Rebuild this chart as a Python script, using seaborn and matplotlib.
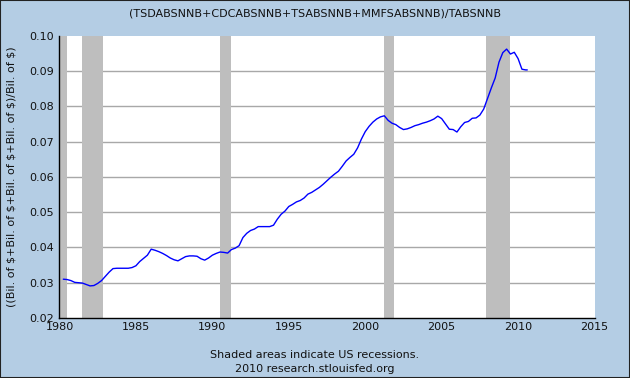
import matplotlib
matplotlib.use("Agg")
import matplotlib.pyplot as plt
import seaborn as sns
import pandas as pd
from matplotlib.patches import Rectangle

years = [1980.25, 1980.5, 1980.75, 1981.0, 1981.25, 1981.5, 1981.75, 1982.0, 1982.25, 1982.5,
         1982.75, 1983.0, 1983.25, 1983.5, 1983.75, 1984.0, 1984.25, 1984.5, 1984.75, 1985.0,
         1985.25, 1985.5, 1985.75, 1986.0, 1986.25, 1986.5, 1986.75, 1987.0, 1987.25, 1987.5,
         1987.75, 1988.0, 1988.25, 1988.5, 1988.75, 1989.0, 1989.25, 1989.5, 1989.75, 1990.0,
         1990.25, 1990.5, 1990.75, 1991.0, 1991.25, 1991.5, 1991.75, 1992.0, 1992.25, 1992.5,
         1992.75, 1993.0, 1993.25, 1993.5, 1993.75, 1994.0, 1994.25, 1994.5, 1994.75, 1995.0,
         1995.25, 1995.5, 1995.75, 1996.0, 1996.25, 1996.5, 1996.75, 1997.0, 1997.25, 1997.5,
         1997.75, 1998.0, 1998.25, 1998.5, 1998.75, 1999.0, 1999.25, 1999.5, 1999.75, 2000.0,
         2000.25, 2000.5, 2000.75, 2001.0, 2001.25, 2001.5, 2001.75, 2002.0, 2002.25, 2002.5,
         2002.75, 2003.0, 2003.25, 2003.5, 2003.75, 2004.0, 2004.25, 2004.5, 2004.75, 2005.0,
         2005.25, 2005.5, 2005.75, 2006.0, 2006.25, 2006.5, 2006.75, 2007.0, 2007.25, 2007.5,
         2007.75, 2008.0, 2008.25, 2008.5, 2008.75, 2009.0, 2009.25, 2009.5, 2009.75, 2010.0,
         2010.25, 2010.5, 2010.6]
ratio = [0.0310, 0.0309, 0.0306, 0.0301, 0.0300, 0.0299, 0.0295, 0.0291, 0.0292, 0.0298,
         0.0306, 0.0318, 0.0330, 0.0340, 0.0341, 0.0341, 0.0341, 0.0341, 0.0343, 0.0348,
         0.0360, 0.0369, 0.0378, 0.0395, 0.0392, 0.0388, 0.0383, 0.0377, 0.0370, 0.0365,
         0.0362, 0.0368, 0.0374, 0.0376, 0.0376, 0.0375, 0.0368, 0.0364, 0.0370, 0.0378,
         0.0383, 0.0387, 0.0386, 0.0384, 0.0394, 0.0398, 0.0405, 0.0428, 0.0440, 0.0448,
         0.0452, 0.0459, 0.0459, 0.0459, 0.0459, 0.0463, 0.0480, 0.0494, 0.0503, 0.0516,
         0.0522, 0.0529, 0.0533, 0.0540, 0.0551, 0.0556, 0.0563, 0.0570, 0.0579, 0.0589,
         0.0599, 0.0608, 0.0616, 0.0630, 0.0645, 0.0655, 0.0664, 0.0682, 0.0707, 0.0728,
         0.0743, 0.0755, 0.0764, 0.0770, 0.0773, 0.0760, 0.0752, 0.0748, 0.0740, 0.0734,
         0.0736, 0.0740, 0.0745, 0.0748, 0.0752, 0.0755, 0.0759, 0.0764, 0.0772, 0.0765,
         0.0750, 0.0735, 0.0734, 0.0727, 0.0742, 0.0754, 0.0757, 0.0766, 0.0767, 0.0775,
         0.0792, 0.0822, 0.0852, 0.0880, 0.0925, 0.0952, 0.0962, 0.0948, 0.0953, 0.0935,
         0.0905, 0.0903, 0.0903]

recession_start = [1980.0, 1981.5, 1990.5, 2001.2, 2007.9]
recession_end = [1980.5, 1982.85, 1991.2, 2001.9, 2009.5]

x_ticks = [1980, 1985, 1990, 1995, 2000, 2005, 2010, 2015]
y_ticks = [0.02, 0.03, 0.04, 0.05, 0.06, 0.07, 0.08, 0.09, 0.10]

title = "(TSDABSNNB+CDCABSNNB+TSABSNNB+MMFSABSNNB)/TABSNNB"
ylabel = "((Bil. of $+Bil. of $+Bil. of $+Bil. of $)/Bil. of $)"
footer1 = "Shaded areas indicate US recessions."
footer2 = "2010 research.stlouisfed.org"

sns.set_style("white")
plt.rcParams["font.family"] = ["DejaVu Sans"]

bg = "#B4CDE4"
fig = plt.figure(figsize=(6.3, 3.78), dpi=100, facecolor=bg)
ax = fig.add_axes([0.0944, 0.1587, 0.8493, 0.7469])
ax.set_facecolor("white")

for s, e in zip(recession_start, recession_end):
    ax.axvspan(s, e, color="#BEBEBE", lw=0, zorder=1)

for yv in y_ticks[1:-1]:
    ax.axhline(yv, color="#A8A8A8", lw=1, zorder=0.5)

df = pd.DataFrame({"year": years, "ratio": ratio})
sns.lineplot(data=df, x="year", y="ratio", ax=ax, color="#0000FF", lw=1, zorder=3)

ax.set_xlim(1980, 2015)
ax.set_ylim(0.02, 0.10)
ax.set_xticks(x_ticks)
ax.set_xticklabels([str(t) for t in x_ticks])
ax.set_yticks(y_ticks)
ax.set_yticklabels([f"{t:.2f}" for t in y_ticks])
ax.tick_params(axis="both", direction="in", length=5, width=1, color="black",
               labelsize=8, labelcolor="#111111", pad=3)
ax.tick_params(axis="y", pad=4)
for side in ["top", "right"]:
    ax.spines[side].set_visible(False)
for side in ["left", "bottom"]:
    ax.spines[side].set_color("black")
    ax.spines[side].set_linewidth(1)
ax.set_xlabel("")
ax.set_ylabel(ylabel, fontsize=8, color="#111111", labelpad=9)

fig.text(0.5, 0.965, title, ha="center", va="center", fontsize=8, color="#111111")
fig.text(0.5, 1 - 355 / 378, footer1, ha="center", va="center", fontsize=8, color="#111111")
fig.text(0.5, 1 - 369 / 378, footer2, ha="center", va="center", fontsize=8, color="#111111")

fig.patches.append(Rectangle((0, 0), 1, 1, transform=fig.transFigure, fill=False,
                             edgecolor="#222222", lw=1.5))

fig.savefig("out.png", dpi=100, facecolor=bg)
